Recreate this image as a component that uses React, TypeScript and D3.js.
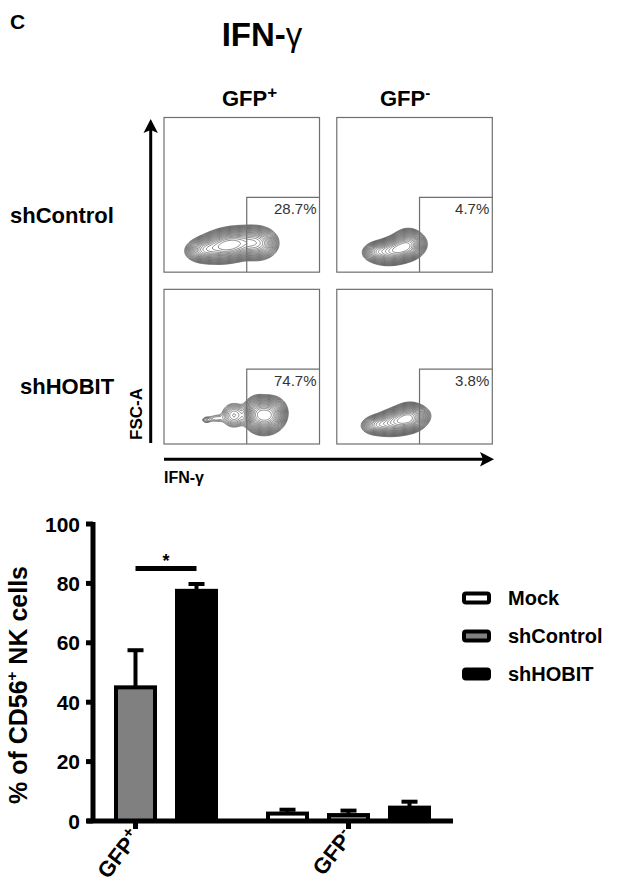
import React from "react";
import * as d3 from "d3";

// ---------- data ----------
const panelCols = ["GFP+", "GFP-"];
const panelRows = ["shControl", "shHOBIT"];
const panelPercents = [["28.7%", "4.7%"], ["74.7%", "3.8%"]];
const gateIFN = 0.532;
const gateFSC = 0.484;

type Blob = { x: number; y: number; sx: number; sy: number; rho: number; w: number };
const blobsCtrlPos: Blob[] = [
  { x: 0.42, y: 0.18, sx: 0.09, sy: 0.047, rho: 0.25, w: 1 },
  { x: 0.6, y: 0.19, sx: 0.06, sy: 0.047, rho: 0, w: 0.45 },
  { x: 0.26, y: 0.15, sx: 0.055, sy: 0.035, rho: 0.1, w: 0.35 },
];
const blobsCtrlNeg: Blob[] = [
  { x: 0.39, y: 0.15, sx: 0.07, sy: 0.04, rho: 0.3, w: 1 },
  { x: 0.46, y: 0.19, sx: 0.045, sy: 0.042, rho: 0, w: 0.5 },
  { x: 0.26, y: 0.14, sx: 0.045, sy: 0.03, rho: 0.1, w: 0.3 },
];
const blobsHobitPos: Blob[] = [
  { x: 0.67, y: 0.19, sx: 0.05, sy: 0.05, rho: 0.1, w: 1 },
  { x: 0.6, y: 0.2, sx: 0.04, sy: 0.05, rho: 0, w: 0.6 },
  { x: 0.45, y: 0.19, sx: 0.045, sy: 0.045, rho: 0, w: 0.15 },
  { x: 0.33, y: 0.17, sx: 0.035, sy: 0.02, rho: 0, w: 0.05 },
  { x: 0.27, y: 0.16, sx: 0.02, sy: 0.014, rho: 0, w: 0.06 },
];
const blobsHobitNeg: Blob[] = [
  { x: 0.41, y: 0.155, sx: 0.075, sy: 0.04, rho: 0.3, w: 1 },
  { x: 0.47, y: 0.18, sx: 0.045, sy: 0.04, rho: 0, w: 0.5 },
  { x: 0.26, y: 0.13, sx: 0.05, sy: 0.03, rho: 0.1, w: 0.3 },
];
const panelBlobs = [[blobsCtrlPos, blobsCtrlNeg], [blobsHobitPos, blobsHobitNeg]];

const groups = ["GFP+", "GFP-"];
const series = ["Mock", "shControl", "shHOBIT"];
const seriesFill = ["#ffffff", "#808080", "#000000"];
const meanGFPpos: (number | null)[] = [null, 45, 77.5];
const semGFPpos: (number | null)[] = [null, 12.5, 2.3];
const meanGFPneg: (number | null)[] = [2.5, 2, 4.5];
const semGFPneg: (number | null)[] = [1.3, 1.5, 2];
const yTicks = [0, 20, 40, 60, 80, 100];
const sigLevel = 85;

const FONT = "'Liberation Sans', Arial, Helvetica, sans-serif";

function density(blobs: Blob[], u: number, v: number) {
  let s = 0;
  for (const b of blobs) {
    const dx = (u - b.x) / b.sx;
    const dy = (v - b.y) / b.sy;
    const q = (dx * dx + dy * dy - 2 * b.rho * dx * dy) / (1 - b.rho * b.rho);
    s += b.w * Math.exp(-0.5 * q);
  }
  return s;
}

function ContourPanel({ x0, y0, w, h, blobs, pct }: { x0: number; y0: number; w: number; h: number; blobs: Blob[]; pct: string }) {
  const n = 140;
  const vals = new Array(n * n);
  let mx = 0;
  for (let j = 0; j < n; j++) {
    for (let i = 0; i < n; i++) {
      const v = density(blobs, (i + 0.5) / n, 1 - (j + 0.5) / n);
      vals[j * n + i] = v;
      if (v > mx) mx = v;
    }
  }
  const levels = d3.range(22).map((k) => mx * 0.03 * Math.pow(1.17, k));
  const cs = d3.contours().size([n, n]).thresholds(levels)(vals);
  const path = d3.geoPath(d3.geoIdentity().scale(w / n).translate([x0, y0]) as any);
  const xs = d3.scaleLinear([0, 1], [x0, x0 + w]);
  const ys = d3.scaleLinear([0, 1], [y0 + h, y0]);
  return (
    <g>
      <rect x={x0} y={y0} width={w} height={h} fill="white" stroke="#6f6f6f" strokeWidth={1.2} />
      {cs.map((c, i) => (
        <path key={i} d={path(c as any) || ""} fill="none" stroke="#5a5a5a" strokeWidth={0.7} />
      ))}
      <path
        d={`M${xs(gateIFN)},${ys(0)}V${ys(gateFSC)}H${xs(1)}`}
        fill="none"
        stroke="#6f6f6f"
        strokeWidth={1.2}
      />
      <text x={xs(1) - 3} y={ys(gateFSC) + 17} textAnchor="end" fontSize={15} fill="#333" fontFamily={FONT}>
        {pct}
      </text>
    </g>
  );
}

export default function App() {
  const colScale = d3.scaleBand(panelCols, [164, 492.3]).paddingInner(0.1);
  const rowScale = d3.scaleBand(panelRows, [117.5, 444]).paddingInner(0.1);
  const pw = colScale.bandwidth();
  const ph = rowScale.bandwidth();

  const y = d3.scaleLinear([0, 100], [821, 524]);
  const xGroup = d3.scalePoint(groups, [135.5, 348.5]);
  const xSub = d3.scalePoint(series, [-61, 61]);
  const barW = 39;
  const capW = 16;
  const means = [meanGFPpos, meanGFPneg];
  const sems = [semGFPpos, semGFPneg];

  const axisX = 93;

  return (
    <svg width={641} height={895} style={{ position: "absolute", left: 0, top: 0 }} fontFamily={FONT}>
      <rect width={641} height={895} fill="white" />
      <text x={10} y={29} fontSize={21} fontWeight="bold">C</text>
      <text x={262} y={46} fontSize={33} fontWeight="bold" textAnchor="middle">
        IFN-<tspan fontWeight="normal">γ</tspan>
      </text>

      <text x={222} y={106} fontSize={22} fontWeight="bold">
        GFP<tspan fontSize={17} dy={-8}>+</tspan>
      </text>
      <text x={380} y={106} fontSize={22} fontWeight="bold">
        GFP<tspan fontSize={15} dy={-8}>-</tspan>
      </text>

      <text x={10} y={223} fontSize={22} fontWeight="bold">shControl</text>
      <text x={20} y={394} fontSize={22} fontWeight="bold">shHOBIT</text>

      {panelRows.map((r, ri) =>
        panelCols.map((c, ci) => (
          <ContourPanel
            key={r + c}
            x0={colScale(c)!}
            y0={rowScale(r)!}
            w={pw}
            h={ph}
            blobs={panelBlobs[ri][ci]}
            pct={panelPercents[ri][ci]}
          />
        ))
      )}

      <line x1={150.7} y1={443} x2={150.7} y2={128} stroke="black" strokeWidth={3} />
      <path d="M150.7,119 L143.5,133 L150.7,130 L157.9,133 Z" fill="black" />
      <line x1={164} y1={459.3} x2={484} y2={459.3} stroke="black" strokeWidth={3} />
      <path d="M494,459.3 L480,452 L483,459.3 L480,466.6 Z" fill="black" />
      <text transform="translate(142,414) rotate(-90)" fontSize={17} fontWeight="bold" textAnchor="middle">FSC-A</text>
      <text x={164} y={483} fontSize={16} fontWeight="bold">IFN-γ</text>

      <g>
        {groups.map((g, gi) =>
          series.map((s, si) => {
            const m = means[gi][si];
            if (m == null) return null;
            const cx = xGroup(g)! + xSub(s)!;
            const e = sems[gi][si] ?? 0;
            return (
              <g key={g + s}>
                <rect x={cx - barW / 2} y={y(m)} width={barW} height={y(0) - y(m)} fill={seriesFill[si]} stroke="black" strokeWidth={4} />
                <line x1={cx} x2={cx} y1={y(m)} y2={y(m + e)} stroke="black" strokeWidth={4} />
                <line x1={cx - capW / 2} x2={cx + capW / 2} y1={y(m + e)} y2={y(m + e)} stroke="black" strokeWidth={4} />
              </g>
            );
          })
        )}
        <line x1={axisX} x2={axisX} y1={y(0)} y2={y(100) - 2} stroke="black" strokeWidth={5} />
        {yTicks.map((t) => (
          <g key={t}>
            <line x1={axisX - 7} x2={axisX} y1={y(t)} y2={y(t)} stroke="black" strokeWidth={5} />
            <text x={80} y={y(t) + 7.5} fontSize={21} fontWeight="bold" textAnchor="end">{t}</text>
          </g>
        ))}
        <line x1={87} x2={453} y1={y(0)} y2={y(0)} stroke="black" strokeWidth={5} />
        {groups.map((g) => (
          <g key={g}>
            <line x1={xGroup(g)!} x2={xGroup(g)!} y1={y(0)} y2={y(0) + 8} stroke="black" strokeWidth={5} />
            <text
              transform={`translate(${xGroup(g)! + 6},${y(0) + 16}) rotate(-52)`}
              fontSize={22}
              fontWeight="bold"
              textAnchor="end"
            >
              GFP<tspan fontSize={16} dy={-8}>{g.slice(3)}</tspan>
            </text>
          </g>
        ))}
        <line
          x1={xGroup("GFP+")! + xSub("shControl")!}
          x2={xGroup("GFP+")! + xSub("shHOBIT")!}
          y1={y(sigLevel)}
          y2={y(sigLevel)}
          stroke="black"
          strokeWidth={5}
        />
        <text
          x={(xGroup("GFP+")! * 2 + xSub("shControl")! + xSub("shHOBIT")!) / 2}
          y={y(sigLevel) - 2}
          fontSize={18}
          fontWeight="bold"
          textAnchor="middle"
        >
          *
        </text>
        <text transform="translate(27,685) rotate(-90)" fontSize={25} fontWeight="bold" textAnchor="middle">
          % of CD56<tspan fontSize={15} dy={-10}>+</tspan>
          <tspan dy={10}> NK cells</tspan>
        </text>
        {series.map((s, i) => (
          <g key={s}>
            <rect x={464} y={598 + i * 38 - 4.5} width={25} height={9} rx={2} fill={seriesFill[i]} stroke="black" strokeWidth={4} />
            <text x={508} y={598 + i * 38 + 7} fontSize={20} fontWeight="bold">{s}</text>
          </g>
        ))}
      </g>
    </svg>
  );
}
